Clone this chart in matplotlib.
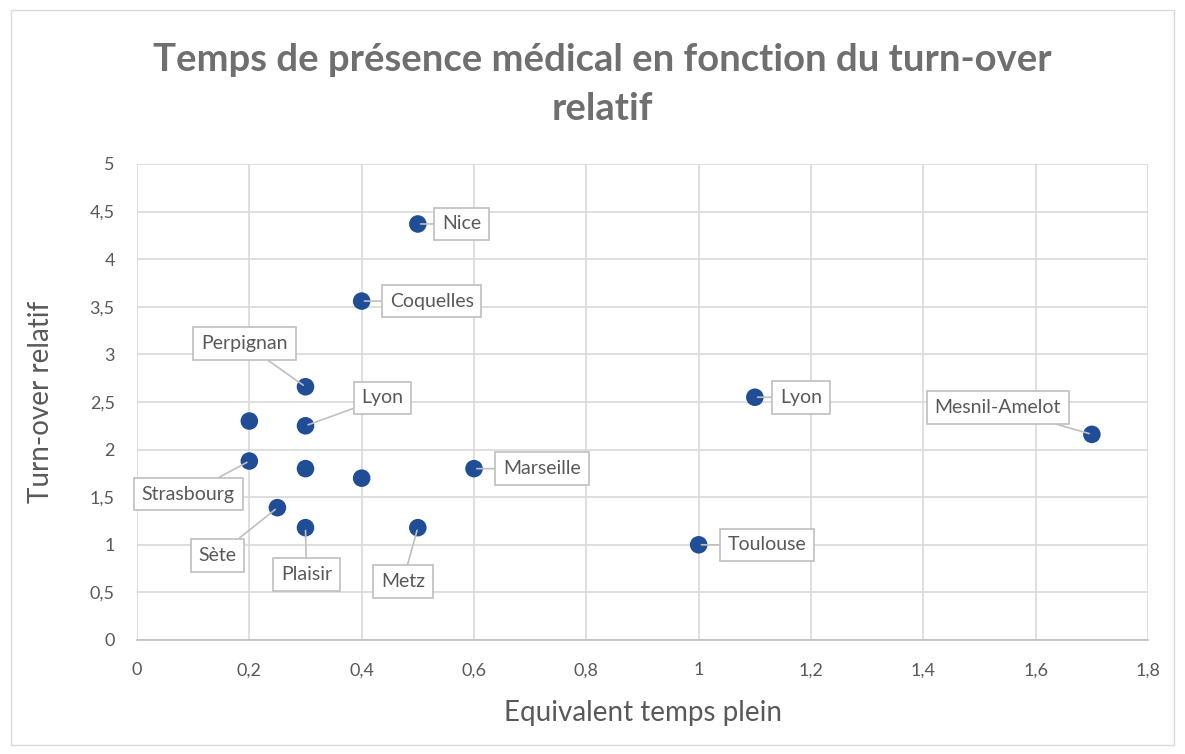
import matplotlib.pyplot as plt
from matplotlib.patches import Rectangle

plt.rcParams['font.family'] = ['Lato', 'DejaVu Sans']

# values
etp = [0.5, 0.4, 0.3, 0.3, 0.2, 0.2, 0.3, 0.4, 0.6, 0.25, 0.3, 0.5, 1.0, 1.1, 1.7]
turnover = [4.37, 3.56, 2.66, 2.25, 2.30, 1.88, 1.80, 1.70, 1.80, 1.39, 1.18, 1.18, 1.0, 2.55, 2.16]
labels = ['Nice', 'Coquelles', 'Perpignan', 'Lyon', '', 'Strasbourg', '', '',
          'Marseille', 'Sète', 'Plaisir', 'Metz', 'Toulouse', 'Lyon', 'Mesnil-Amelot']
# label offsets in pixels (dx, dy)
offsets = [(44, 0), (70, 0), (-61, 43), (77, 28), (0, 0), (-61, -33), (0, 0), (0, 0),
           (68, 0), (-60, -48), (1, -47), (-15, -54), (68, 0), (46, 0), (-94, 27)]

grey = '#595959'
fig = plt.figure(figsize=(11.85, 7.54), dpi=100)
fig.patches.append(Rectangle((0.009, 0.012), 0.982, 0.975, transform=fig.transFigure,
                             fill=False, edgecolor='#D9D9D9', linewidth=1))
ax = fig.add_axes([0.1156, 0.1512, 0.8532, 0.6313])

ax.scatter(etp, turnover, s=160, color='#1F4E96', zorder=3, edgecolors='none')

for x, y, lab, (dx, dy) in zip(etp, turnover, labels, offsets):
    if not lab:
        continue
    ax.annotate(lab, (x, y), xytext=(dx * 0.72, dy * 0.72), textcoords='offset points',
                ha='center', va='center', fontsize=14, color=grey, zorder=4,
                bbox=dict(boxstyle='square,pad=0.4', fc='white', ec='#BFBFBF', lw=1.2),
                arrowprops=dict(arrowstyle='-', color='#BFBFBF', lw=1.2, shrinkA=0, shrinkB=2))

ax.set_xlim(0, 1.8)
ax.set_ylim(0, 5)
xt = [0, 0.2, 0.4, 0.6, 0.8, 1, 1.2, 1.4, 1.6, 1.8]
yt = [0, 0.5, 1, 1.5, 2, 2.5, 3, 3.5, 4, 4.5, 5]
ax.set_xticks(xt)
ax.set_yticks(yt)
fmt = lambda v: ('%g' % v).replace('.', ',')
ax.set_xticklabels([fmt(v) for v in xt])
ax.set_yticklabels([fmt(v) for v in yt])
ax.tick_params(length=0, labelsize=13, labelcolor=grey, pad=16)
ax.grid(True, color='#D9D9D9', lw=1.2)
ax.set_axisbelow(True)
for s in ['left', 'top', 'right']:
    ax.spines[s].set_visible(False)
ax.spines['bottom'].set_color('#BFBFBF')
ax.spines['bottom'].set_linewidth(1.2)

ax.set_xlabel('Equivalent temps plein', fontsize=20, color=grey, labelpad=16)
ax.set_ylabel('Turn-over relatif', fontsize=20, color=grey, labelpad=26)
fig.text(0.508, 0.92, 'Temps de présence médical en fonction du turn-over', ha='center',
         va='center', fontsize=27.5, fontweight='bold', color='#6F6F6F')
fig.text(0.508, 0.855, 'relatif', ha='center', va='center', fontsize=27.5,
         fontweight='bold', color='#6F6F6F')

fig.savefig('out.png', dpi=100)
